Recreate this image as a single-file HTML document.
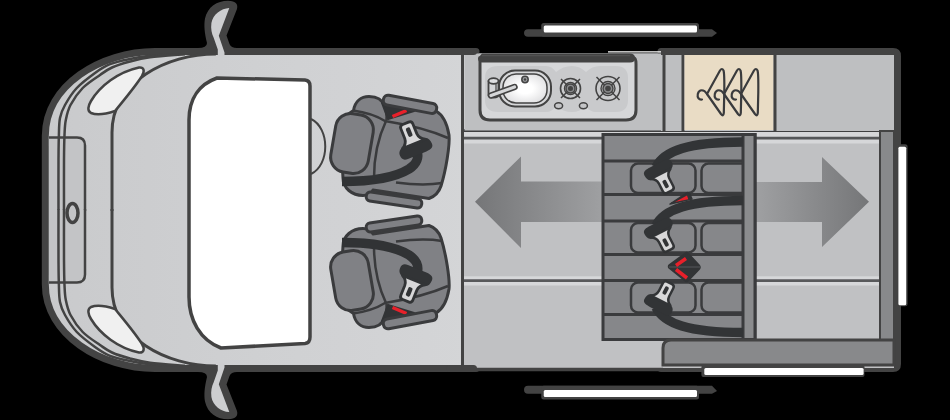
<!DOCTYPE html>
<html><head><meta charset="utf-8">
<style>
html,body{margin:0;padding:0;background:#000;width:950px;height:420px;overflow:hidden;font-family:"Liberation Sans",sans-serif;}
svg{display:block}
</style></head>
<body>
<svg width="950" height="420" viewBox="0 0 950 420">
<defs>
  <linearGradient id="arrL" x1="475" y1="0" x2="603" y2="0" gradientUnits="userSpaceOnUse">
    <stop offset="0" stop-color="#757678"/><stop offset="1" stop-color="#9fa0a2"/>
  </linearGradient>
  <linearGradient id="arrR" x1="756" y1="0" x2="869" y2="0" gradientUnits="userSpaceOnUse">
    <stop offset="0" stop-color="#9fa0a2"/><stop offset="1" stop-color="#757678"/>
  </linearGradient>
  <linearGradient id="bodyG" x1="40" y1="0" x2="900" y2="0" gradientUnits="userSpaceOnUse">
    <stop offset="0" stop-color="#c9cacc"/><stop offset="0.25" stop-color="#cfd0d2"/><stop offset="0.5" stop-color="#d4d5d7"/><stop offset="1" stop-color="#c0c1c3"/>
  </linearGradient>
  <radialGradient id="sinkG" cx="0.5" cy="0.5" r="0.6">
    <stop offset="0.3" stop-color="#ffffff"/><stop offset="1" stop-color="#dcdcde"/>
  </radialGradient>
  <g id="buckle">
    <path d="M-15 -2 C-15 -6 -11 -6.5 -6 -6.5 L10 -6.5 C14 -6.5 15.5 -4.5 15.5 -1 C15.5 3 12 5.5 6 5.5 L-9 5.5 C-13 5.5 -15 3 -15 -2 Z" fill="#323436"/>
    <path d="M-11 4 L11 4 Q6 6.5 5.8 11.5 L5.8 20.8 Q5.8 23.8 2.8 23.8 L-2.8 23.8 Q-5.8 23.8 -5.8 20.8 L-5.8 11.5 Q-6 6.5 -11 4 Z" fill="#d8d8d9" stroke="#323436" stroke-width="2.5" stroke-linejoin="round"/>
    <rect x="-2" y="11" width="4" height="8.5" rx="1.5" fill="#323436"/>
  </g>
  <g id="seat" stroke-linejoin="round">
    <!-- seat body -->
    <path d="M343 178 C341 150 343 126 347 115 L353.5 110.5 C355 101.5 361 96.5 369 96.5 C377 96.5 382.5 100 384.5 106 L436 111 C443 115 447 123 449 135 C450 145 446 170 441 186 C439 192 436 196 429 198.5 L373 190 C372 193 368 195.5 363 195.5 C352 195.5 343 188 343 178 Z" fill="#808185" stroke="#3a3b3d" stroke-width="3"/>
    <!-- hump line -->
    <path d="M353 110.5 C364 112 377 116 385 121 C410 125 432 131 448 138" fill="none" stroke="#3a3b3d" stroke-width="2.5"/>
    <path d="M383.5 103 C386 109 387 114 386.5 120" fill="none" stroke="#3a3b3d" stroke-width="2.5"/>
    <!-- backrest front edge -->
    <path d="M386 121 C378 138 374 158 374 178" fill="none" stroke="#3a3b3d" stroke-width="2.5"/>
    <!-- cushion front line -->
    <path d="M396 182.5 C415 185 430 185 442 183" fill="none" stroke="#3a3b3d" stroke-width="2.5"/>
    <!-- lower blob line -->
    
    <!-- dark wedge -->
    <path d="M382 103 L414 111 L388 119 Z" fill="#323436" stroke="#323436" stroke-width="2"/>
    <path d="M392.5 116.5 L406.5 110.5" stroke="#e8202a" stroke-width="3.5"/>
    <!-- top armrest -->
    <rect x="-27" y="-5" width="54" height="10" rx="4.5" transform="translate(410,104.3) rotate(10.6)" fill="#808185" stroke="#3a3b3d" stroke-width="3"/>
    <!-- bottom armrest -->
    <rect x="-28" y="-4.5" width="56" height="9" rx="4" transform="translate(394,200) rotate(8.5)" fill="#808185" stroke="#3a3b3d" stroke-width="3"/>
    <!-- headrest -->
    <rect x="-19" y="-29.5" width="38" height="59" rx="15" transform="translate(352,143.5) rotate(9.7)" fill="#808185" stroke="#3a3b3d" stroke-width="3"/>
    <!-- belt -->
    <path d="M342 181.5 C372 181.5 396 177 409 169 C418 163 419 157 417 150" fill="none" stroke="#313335" stroke-width="9.5"/>
    <use href="#buckle" transform="translate(415.6,148) rotate(158) scale(1.12)"/>
  </g>
</defs>

<!-- body fill + outline -->
<path d="M45.3 136 C45.3 85 101 51.5 155 51.5 L476 51.5 L476 53.5 L661 53.5 L661 51.5 L893 51.5 Q897.5 51.5 897.5 56 L897.5 364 Q897.5 368.5 893 368.5 L661 368.5 L661 368.5 L476 368.5 L476 368.5 L155 368.5 C101 368.5 45.3 335 45.3 284 Z" fill="url(#bodyG)"/>
<path d="M476 51.5 L155 51.5 C101 51.5 45.3 85 45.3 136 L45.3 284 C45.3 335 101 368.5 155 368.5 L476 368.5" fill="none" stroke="#434343" stroke-width="7" stroke-linecap="round"/>
<path d="M661 51.5 L893 51.5 Q897.5 51.5 897.5 56 L897.5 364 Q897.5 368.5 893 368.5 L661 368.5" fill="none" stroke="#434343" stroke-width="7" stroke-linecap="round" stroke-linejoin="round"/>

<g id="halfTop">
<!-- plate -->
<path d="M48.9 137.5 L77 137.5 Q85 137.5 85 145.5 L85 210.2 L48.9 210.2 Z" fill="#c3c4c6"/>
<path d="M49 137.5 L77 137.5 Q85 137.5 85 145.5 L85 211" fill="none" stroke="#434343" stroke-width="2.5"/>
<!-- hood lines -->
<path d="M58.5 211.0 C58.5 202.5 58.4 172.7 58.5 160.0 C58.6 147.3 58.6 142.0 58.9 135.0 C59.1 128.0 59.0 123.0 60.0 118.0 C61.0 113.0 62.2 110.0 65.0 105.0 C67.8 100.0 71.8 93.3 76.8 88.0 C81.8 82.7 89.5 77.0 95.0 73.0 C100.5 69.0 104.2 66.5 110.0 64.2 C115.8 61.9 123.3 60.4 130.0 59.0 C136.7 57.6 142.5 56.6 150.0 55.8 C157.5 55.0 170.8 54.5 175.0 54.3" fill="none" stroke="#434343" stroke-width="2.5"/>
<path d="M64.0 211.0 C64.0 202.5 63.9 172.7 64.0 160.0 C64.1 147.3 64.2 141.7 64.5 135.0 C64.8 128.3 64.8 125.0 65.8 120.0 C66.8 115.0 67.7 110.3 70.5 105.0 C73.3 99.7 77.8 93.0 82.7 88.0 C87.6 83.0 95.1 78.4 100.0 75.0 C104.9 71.6 107.0 69.8 112.0 67.5 C117.0 65.2 123.7 63.2 130.0 61.5 C136.3 59.8 140.8 58.5 150.0 57.3 C159.2 56.1 179.2 54.8 185.0 54.3" fill="none" stroke="#434343" stroke-width="2.5"/>
<path d="M112 211 L112 132.5 C112 82 166.8 54 215.9 54" fill="none" stroke="#434343" stroke-width="3"/>
<!-- mirror -->
<path d="M198 55 L198 48 Q207 48 207 43 C204.5 33 203.8 25 205 18.5 C207.5 7 217 0.7 228 0.7 C236 0.8 238.5 4.5 236.8 9.5 L226.5 35.5 L229.5 44 Q231 48 237 48 L237 55 Z" fill="#434343"/>
<path d="M229.3 7.9 C221 8.5 213 14 211.4 23 C210.6 29 211.8 33.5 213.6 37.5 L217.8 49.5 L217.8 56.5 L224.5 56.5 L224.5 52.5 L218.8 35.7 Z" fill="#cdced0"/>
<!-- headlight -->
<path d="M139 67.5 C144 67 145 71 142 76 C135 87 124 100 115 111 C106 114 96 115 91 113 C87 111 88 106 91 101 C100 86 118 72 139 67.5 Z" fill="#f0f0f0" stroke="#434343" stroke-width="2.5"/>
</g>
<use href="#halfTop" transform="translate(0,420) scale(1,-1)"/>
<ellipse cx="72.5" cy="213" rx="5.5" ry="9.5" fill="none" stroke="#434343" stroke-width="3.5"/>

<!-- windshield panel -->
<path d="M217 78 L305 80 Q310 80.5 310 86 L310 337 Q310 343 305 343.5 L221 348 C200 340 189 320 189 297 L189 120 C189 98 200 84 217 78 Z" fill="#ffffff" stroke="#434343" stroke-width="3.5" stroke-linejoin="round"/>
<path d="M311 119 C330 128 330 165 311 174" fill="none" stroke="#434343" stroke-width="2"/>


<!-- seats -->
<use href="#seat"/>
<use href="#seat" transform="translate(0,424) scale(1,-1)"/>

<!-- floor -->
<rect x="464" y="130" width="430" height="238" fill="#c0c1c3"/>
<line x1="474" y1="369.5" x2="663" y2="369.5" stroke="#434343" stroke-width="3.5"/>
<line x1="450" y1="368.5" x2="473.5" y2="368.5" stroke="#434343" stroke-width="7" stroke-linecap="round"/>
<rect x="464" y="131.5" width="430" height="12" fill="#d6d7d9"/>
<line x1="464" y1="138.1" x2="894" y2="138.1" stroke="#555658" stroke-width="2.8"/>
<rect x="464" y="276.3" width="430" height="9.2" fill="#d6d7d9"/>
<line x1="464" y1="280.7" x2="894" y2="280.7" stroke="#58595b" stroke-width="2.8"/>
<line x1="463" y1="130.5" x2="894" y2="130.5" stroke="#3f3f40" stroke-width="2.9"/>
<line x1="462.5" y1="53" x2="462.5" y2="367" stroke="#434343" stroke-width="3"/>
<path d="M475 201.8 L521 156.5 L521 181.5 L603 181.5 L603 222 L521 222 L521 248 Z" fill="url(#arrL)"/>
<path d="M869 201.8 L822 157 L822 182 L756 182 L756 222 L822 222 L822 247 Z" fill="url(#arrR)"/>

<!-- kitchen -->
<rect x="464.5" y="53.5" width="196.5" height="77" fill="#bebfc1"/>
<path d="M480 58 L634 58 Q636 58 636 64 L636 110 Q636 120 626 120 L490 120 Q480 120 480 110 Z" fill="#d6d7d9" stroke="#434343" stroke-width="3"/>
<path d="M482 53.5 L630 53.5 Q635 53.5 635 58 Q635 62.5 630 62.5 L482 62.5 Q478 62.5 478 58 Z" fill="#434343"/>
<line x1="482" y1="55.7" x2="630" y2="55.7" stroke="#5a5a5a" stroke-width="0.8"/>
<path d="M498 66 L546 66 Q552 66 556 72 Q563 66 572 66 Q580 66 586 72 Q592 66 600 66 L616 66 Q628 66 628 78 L628 100 Q628 112 616 112 L596 112 Q590 112 586 106 Q580 112 572 112 Q563 112 556 106 Q552 112 546 112 L498 112 Q485 112 485 100 L485 78 Q485 66 498 66 Z" fill="#c9cacc"/>
<!-- sink -->
<rect x="499" y="70.5" width="52" height="36" rx="16" fill="#d6d7d9" stroke="#434343" stroke-width="2"/>
<rect x="503" y="74" width="44" height="29" rx="13" fill="url(#sinkG)" stroke="#434343" stroke-width="1.5"/>
<circle cx="525" cy="79.5" r="3.2" fill="#9a9b9d" stroke="#434343" stroke-width="1.5"/>
<circle cx="525" cy="79.5" r="1.2" fill="#434343"/>
<!-- tap -->
<path d="M488.5 81 L488.5 95 Q488.5 97.5 493.5 97.5 Q498.5 97.5 498.5 95 L498.5 81 Z" fill="#d6d7d9" stroke="#434343" stroke-width="1.8" stroke-linejoin="round"/>
<ellipse cx="493.5" cy="81" rx="5" ry="2.8" fill="#dedfe1" stroke="#434343" stroke-width="1.8"/>
<line x1="496" y1="84" x2="496" y2="93" stroke="#434343" stroke-width="1.2"/>
<path d="M491 95.5 L514.5 87" stroke="#434343" stroke-width="6.5" stroke-linecap="round"/>
<path d="M491 95.5 L514.5 87" stroke="#d6d7d9" stroke-width="3.2" stroke-linecap="round"/>
<!-- burners -->
<g fill="none" stroke="#434343">
<circle cx="570.5" cy="88.5" r="10" stroke-width="1.6"/>
<circle cx="570.5" cy="88.5" r="6" stroke-width="1.4"/>
<circle cx="570.5" cy="88.5" r="3" fill="#434343" stroke-width="0"/>
<path d="M561 79 L580 98 M580 79 L561 98" stroke-width="1.5"/>
<circle cx="608" cy="88.5" r="12" stroke-width="1.6"/>
<circle cx="608" cy="88.5" r="7" stroke-width="1.4"/>
<circle cx="608" cy="88.5" r="3.5" fill="#434343" stroke-width="0"/>
<path d="M596.5 77 L619.5 100 M619.5 77 L596.5 100" stroke-width="1.5"/>
</g>
<circle cx="570.5" cy="88.5" r="4.5" fill="#8a8b8d" stroke="#434343" stroke-width="1.4"/>
<circle cx="570.5" cy="88.5" r="2.5" fill="#434343"/>
<circle cx="608" cy="88.5" r="5" fill="#8a8b8d" stroke="#434343" stroke-width="1.4"/>
<circle cx="608" cy="88.5" r="2.8" fill="#434343"/>
<ellipse cx="558.6" cy="105.7" rx="4" ry="3" fill="#c4c5c7" stroke="#434343" stroke-width="1.5"/>
<ellipse cx="583.4" cy="105.7" rx="4" ry="3" fill="#c4c5c7" stroke="#434343" stroke-width="1.5"/>
<line x1="608" y1="51.8" x2="661" y2="51.8" stroke="#ffffff" stroke-width="1.2"/>

<line x1="450" y1="51.5" x2="473.5" y2="51.5" stroke="#434343" stroke-width="7" stroke-linecap="round"/>
<!-- wardrobe column and cabinet -->
<rect x="661" y="55" width="233" height="76" fill="#bebfc1"/>
<line x1="664" y1="55" x2="664" y2="131" stroke="#434343" stroke-width="3"/>
<line x1="683" y1="55" x2="683" y2="131" stroke="#434343" stroke-width="3"/>
<rect x="684.5" y="55" width="89" height="75" fill="#e9dcc5"/>
<line x1="775" y1="55" x2="775" y2="131" stroke="#434343" stroke-width="3"/>

<!-- hangers -->
<g id="hanger" fill="none" stroke="#3a3b3d" stroke-width="2.2" stroke-linejoin="round" stroke-linecap="round">
<path d="M741 94 L754 70.5 Q756 67.5 757.5 70.5 Q758.5 73 758.3 92 L757.8 113 Q757.5 117 755 114 Z"/>
<path d="M741 94 C738 89 733 89 731.8 94 C731 97.5 733 100 736 99.5"/>
</g>
<use href="#hanger" transform="translate(-17,0)"/>
<use href="#hanger" transform="translate(-34,0)"/>

<!-- bench -->
<rect x="603" y="134.5" width="152" height="205" fill="#86878a" stroke="#3a3b3d" stroke-width="3"/>
<g stroke="#3a3b3d" stroke-width="3">
<line x1="603" y1="161" x2="743" y2="161"/>
<line x1="603" y1="194.5" x2="743" y2="194.5"/>
<line x1="603" y1="221" x2="743" y2="221"/>
<line x1="603" y1="254.5" x2="743" y2="254.5"/>
<line x1="603" y1="280.5" x2="743" y2="280.5"/>
<line x1="603" y1="314.5" x2="743" y2="314.5"/>
</g>
<g fill="none" stroke="#3a3b3d" stroke-width="2.5">
<rect x="631" y="163.5" width="64.5" height="29.5" rx="7"/>
<rect x="701.5" y="163.5" width="50" height="29.5" rx="7"/>
<rect x="631" y="223" width="64.5" height="29.5" rx="7"/>
<rect x="701.5" y="223" width="50" height="29.5" rx="7"/>
<rect x="631" y="282.5" width="64.5" height="30" rx="7"/>
<rect x="701.5" y="282.5" width="50" height="30" rx="7"/>
</g>
<rect x="743" y="134.5" width="12" height="205" fill="#8b8c8e" stroke="#3a3b3d" stroke-width="3"/>
<g id="belt1">
<path d="M656 167 C664 151 688 142 743 142" fill="none" stroke="#323436" stroke-width="9.5"/>
<use href="#buckle" transform="translate(658.7,170.4) rotate(-27)"/>
</g>
<use href="#belt1" transform="translate(0,58.5)"/>
<path d="M670 204 L686.5 193 Q688.5 191.8 689.8 194 L692 199 Z" fill="#323436" stroke="#323436" stroke-width="1.5" stroke-linejoin="round"/>
<path d="M675 202 L687 195.5 L688.3 199.2 Z" fill="#e8202a"/>
<use href="#belt1" transform="translate(0,474.5) scale(1,-1)"/>
<!-- diamond buckle -->
<path d="M686 253 Q687 252.5 688 253.5 L699 265.5 Q700.5 267.3 699 269 L688 280.5 Q686.5 282 685 280.5 L669.5 268 Q668 266.3 669.5 265 Z" fill="#323436" stroke="#323436" stroke-width="2" stroke-linejoin="round"/>
<line x1="669" y1="267" x2="700" y2="267" stroke="#55575a" stroke-width="1"/>
<path d="M686 258.5 L676 265.5 M676 269.5 L687 278" stroke="#e8202a" stroke-width="3.5" stroke-linecap="butt"/>

<!-- rear column -->
<rect x="880" y="131" width="14" height="210" fill="#88898b" stroke="#434343" stroke-width="2"/>

<!-- step -->
<path d="M663 365 L663 348 Q663 340 671 340 L894 340 L894 365 Z" fill="#88898b" stroke="#434343" stroke-width="3"/>

<!-- rails -->
<path d="M528 29.2 L712 29.2 L717 33 L712 36.7 L528 36.7 Q524 36.7 524 33 Q524 29.2 528 29.2 Z" fill="#434343"/>
<rect x="541.25" y="22.9" width="157.75" height="13.8" rx="2.5" fill="#434343"/>
<rect x="543.75" y="25.4" width="153.25" height="7.1" rx="1.5" fill="#ffffff"/>
<path d="M528 385.8 L712 385.8 L717 391 L712 393.75 L528 393.75 Q524 393.75 524 389.8 Q524 385.8 528 385.8 Z" fill="#434343"/>
<rect x="541.25" y="385.8" width="157.75" height="13.8" rx="2.5" fill="#434343"/>
<rect x="543.75" y="390" width="153.25" height="7.1" rx="1.5" fill="#ffffff"/>
<rect x="897.1" y="144.3" width="10.5" height="162" rx="2.5" fill="#434343"/>
<rect x="898.4" y="146.7" width="7.8" height="158.5" rx="1.5" fill="#ffffff"/>
<rect x="701.4" y="365" width="163.1" height="12.1" rx="2" fill="#434343"/>
<rect x="704.3" y="367.9" width="159.3" height="7.1" rx="1.5" fill="#ffffff"/>
</svg>
</body></html>
